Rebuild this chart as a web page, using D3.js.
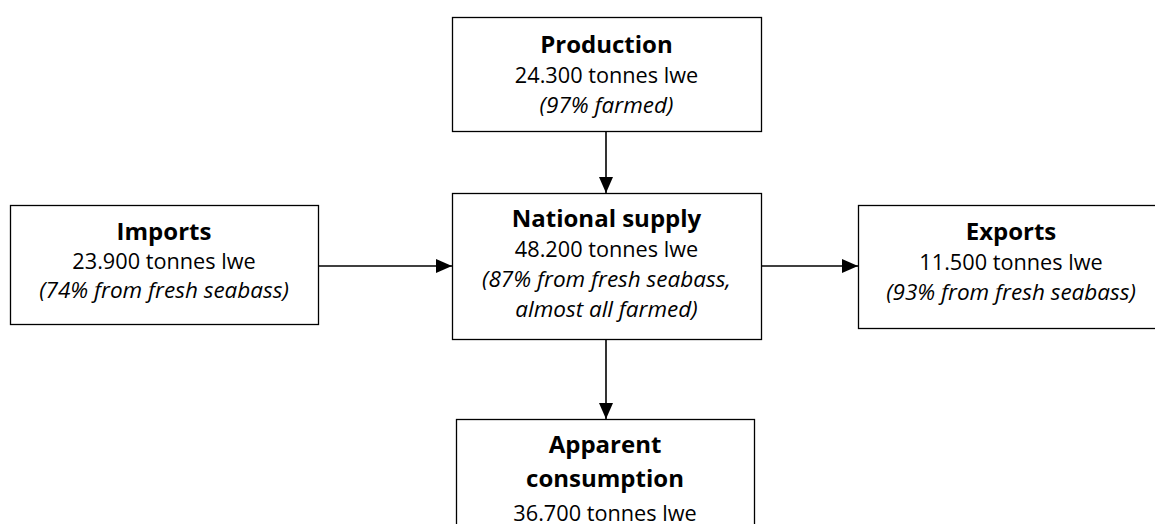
<!DOCTYPE html>
<html>
<head>
<meta charset="utf-8">
<script src="https://cdn.jsdelivr.net/npm/d3@7"></script>
<style>
  html, body { margin: 0; padding: 0; background: #fff; }
  svg { display: block; font-family: "Open Sans", "Noto Sans", sans-serif; }
</style>
</head>
<body>
<div id="chart"></div>
<script>
// nodes of the flow diagram
var nodeIds = ["production", "imports", "supply", "exports", "consumption"];
var titles = [["Production"], ["Imports"], ["National supply"], ["Exports"], ["Apparent", "consumption"]];
var volumes = ["24.300 tonnes lwe", "23.900 tonnes lwe", "48.200 tonnes lwe", "11.500 tonnes lwe", "36.700 tonnes lwe"];
var notes = [["(97% farmed)"], ["(74% from fresh seabass)"], ["(87% from fresh seabass,", "almost all farmed)"], ["(93% from fresh seabass)"], []];
var links = [["production", "supply"], ["imports", "supply"], ["supply", "exports"], ["supply", "consumption"]];

// layout (box positions in px)
var layout = {
  production:  {x: 452, y: 17,  w: 309, h: 114, top: 53,  lh: 30},
  imports:     {x: 10,  y: 205, w: 308, h: 119, top: 240, lh: 29},
  supply:      {x: 452, y: 193, w: 309, h: 146, top: 227, lh: 30},
  exports:     {x: 858, y: 205, w: 310, h: 123, top: 240, lh: 30},
  consumption: {x: 456, y: 419, w: 298, h: 140, top: 453, lh: 34}
};

var width = 1155, height = 524;

var svg = d3.select("#chart").append("svg")
  .attr("width", width)
  .attr("height", height);

svg.append("defs").append("marker")
  .attr("id", "arrow")
  .attr("viewBox", "0 0 16 14")
  .attr("refX", 16).attr("refY", 7)
  .attr("markerWidth", 16).attr("markerHeight", 14)
  .attr("markerUnits", "userSpaceOnUse")
  .attr("orient", "auto")
  .append("path")
  .attr("d", "M0,0L16,7L0,14Z")
  .attr("fill", "#000");

var nodes = nodeIds.map(function(id, i) {
  var lines = [];
  titles[i].forEach(function(t) { lines.push({text: t, kind: "title"}); });
  lines.push({text: volumes[i], kind: "value"});
  notes[i].forEach(function(t) { lines.push({text: t, kind: "note"}); });
  return {id: id, lines: lines, box: layout[id]};
});
var byId = {};
nodes.forEach(function(n) { byId[n.id] = n; });

// links
svg.selectAll("line.link")
  .data(links)
  .enter()
  .append("line")
  .attr("class", "link")
  .attr("stroke", "#000")
  .attr("stroke-width", 1.6)
  .attr("marker-end", "url(#arrow)")
  .each(function(d) {
    var a = byId[d[0]].box, b = byId[d[1]].box;
    var x1, y1, x2, y2;
    if (a.y + a.h <= b.y) {
      x1 = 606; y1 = a.y + a.h; x2 = 606; y2 = b.y;
    } else {
      x1 = a.x + a.w; x2 = b.x;
      y1 = 266; y2 = 266;
    }
    d3.select(this).attr("x1", x1).attr("y1", y1).attr("x2", x2).attr("y2", y2);
  });

// boxes
var g = svg.selectAll("g.node")
  .data(nodes)
  .enter()
  .append("g")
  .attr("class", "node");

g.append("rect")
  .attr("x", function(d) { return d.box.x + 0.5; })
  .attr("y", function(d) { return d.box.y + 0.5; })
  .attr("width", function(d) { return d.box.w; })
  .attr("height", function(d) { return d.box.h; })
  .attr("fill", "#fff")
  .attr("stroke", "#000")
  .attr("stroke-width", 1.3);

g.each(function(d) {
  var cx = d.box.x + d.box.w / 2;
  if (d.id == "exports") cx = 1011;
  d3.select(this).selectAll("text")
    .data(d.lines)
    .enter()
    .append("text")
    .attr("x", cx)
    .attr("y", function(l, i) { return d.box.top + i * d.box.lh; })
    .attr("text-anchor", "middle")
    .attr("fill", "#000")
    .attr("font-size", function(l) { return l.kind == "title" ? 24 : l.kind == "note" ? 22.5 : 21.7; })
    .attr("font-weight", function(l) { return l.kind == "title" ? 700 : 400; })
    .attr("font-style", function(l) { return l.kind == "note" ? "italic" : "normal"; })
    .text(function(l) { return l.text; });
});
</script>
</body>
</html>
